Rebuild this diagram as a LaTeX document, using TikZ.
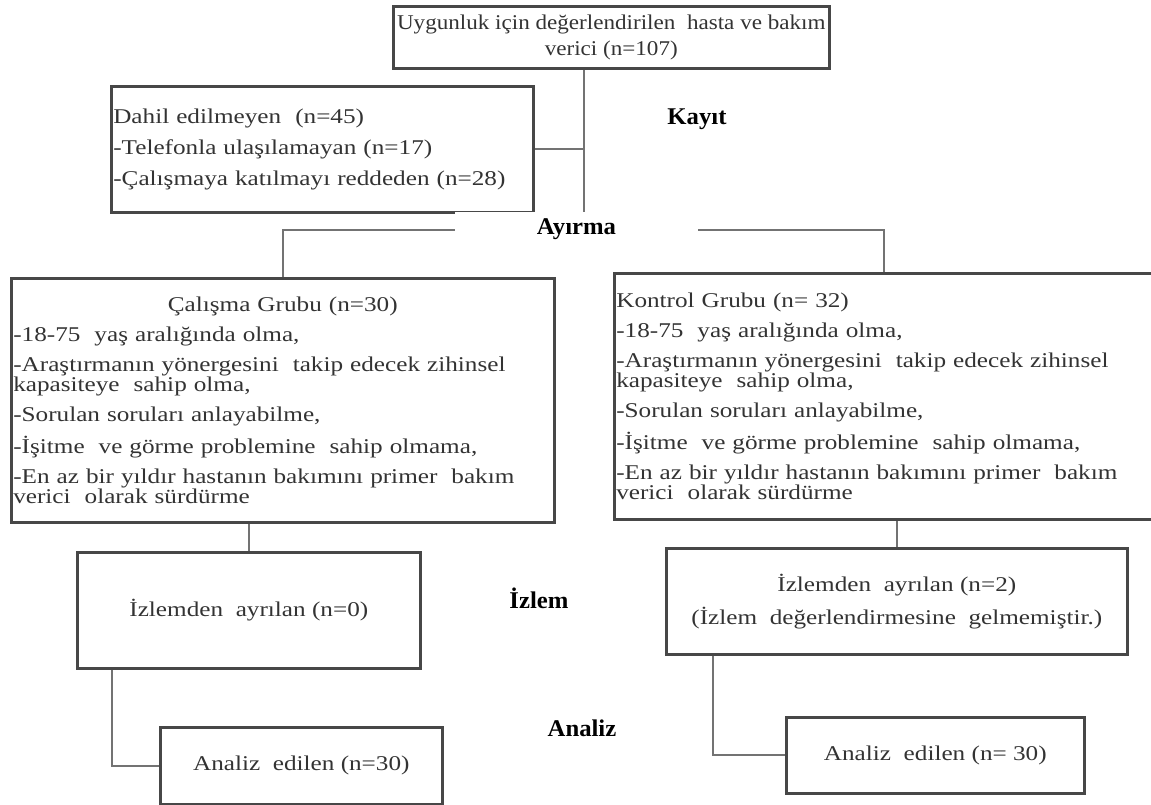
\documentclass[tikz,border=0pt]{standalone}
\usepackage{fontspec}
\usetikzlibrary{backgrounds}
\newfontfamily\bodyfont{Liberation Serif}[FakeStretch=1.2]
\newfontfamily\topfont{Liberation Serif}[FakeStretch=1.1]
\newfontfamily\labfont{Liberation Serif}[FakeStretch=1.03]
\begin{document}
\begin{tikzpicture}[x=1pt,y=-1pt,
  box/.style={draw=black!72, line width=2.6pt, fill=white, inner xsep=2pt, inner ysep=0pt,
              anchor=north west, font=\bodyfont\fontsize{21}{20}\selectfont, text=black!80},
  conn/.style={draw=black!55, line width=1.8pt},
  lab/.style={font=\labfont\bfseries\fontsize{24}{26}\selectfont, text=black, inner sep=0pt}]
\useasboundingbox (0,0) rectangle (1151,805);

% boxes
\node[box, minimum width=436, minimum height=62, align=center, font=\topfont\fontsize{21}{20}\selectfont] (top) at (392,5)
  {Uygunluk için değerlendirilen\ \ hasta ve bakım\\[6pt] verici (n=107)};
\node[box, minimum width=422, minimum height=126, text width=418, align=left] (excl) at (110,85)
  {Dahil edilmeyen\ \ (n=45)\\[11pt] -Telefonla ulaşılamayan (n=17)\\[11pt] -Çalışmaya katılmayı reddeden (n=28)};
\node[box, minimum width=543, minimum height=244, text width=539, align=left] (study) at (10,277)
  {\makebox[539pt]{Çalışma Grubu (n=30)}\\[10pt]
   -18-75\ \ yaş aralığında olma,\\[10pt]
   -Araştırmanın yönergesini\ \ takip edecek zihinsel\\ kapasiteye\ \ sahip olma,\\[10pt]
   -Sorulan soruları anlayabilme,\\[10pt]
   -İşitme\ \ ve görme problemine\ \ sahip olmama,\\[10pt]
   -En az bir yıldır hastanın bakımını primer\ \ bakım\\ verici\ \ olarak sürdürme};
\node[box, minimum width=547, minimum height=246, text width=543, align=left] (control) at (613,272)
  {Kontrol Grubu (n= 32)\\[10pt]
   -18-75\ \ yaş aralığında olma,\\[10pt]
   -Araştırmanın yönergesini\ \ takip edecek zihinsel\\ kapasiteye\ \ sahip olma,\\[10pt]
   -Sorulan soruları anlayabilme,\\[10pt]
   -İşitme\ \ ve görme problemine\ \ sahip olmama,\\[10pt]
   -En az bir yıldır hastanın bakımını primer\ \ bakım\\ verici\ \ olarak sürdürme};
\node[box, minimum width=343, minimum height=116, align=center] (izL) at (76,551)
  {İzlemden\ \ ayrılan (n=0)};
\node[box, minimum width=461, minimum height=106, align=center] (izR) at (665,547)
  {İzlemden\ \ ayrılan (n=2)\\[10pt] (İzlem\ \ değerlendirmesine\ \ gelmemiştir.)};
\node[box, minimum width=282, minimum height=77, align=center] (anL) at (159,726)
  {Analiz\ \ edilen (n=30)};
\node[box, minimum width=298, minimum height=76, align=center] (anR) at (785,716)
  {Analiz\ \ edilen (n= 30)};

% stage labels
\node[lab] (kayit) at (697,119) {Kayıt};
\node[lab, fill=white, minimum width=243, minimum height=33] (ayirma) at (576.5,229) {Ayırma};
\node[lab] (izlem) at (539,598) {İzlem};
\node[lab] (analiz) at (582,728) {Analiz};

% connector helper coordinates
\coordinate (tx) at (584,0);
\coordinate (sx) at (283,230);
\coordinate (cx) at (884,230);
\coordinate (lx) at (112,0);
\coordinate (rx) at (713,0);

\begin{pgfonlayer}{background}
\fill[white] (0,0) rectangle (1151,805);
\draw[conn] (top.south -| tx) -- (ayirma.north -| tx);
\draw[conn] (excl.east) -- (excl.east -| tx);
\draw[conn] (study.north -| sx) -- (sx) -- (cx) -- (control.north -| cx);
\draw[conn] (study.south -| izL.north) -- (izL.north);
\draw[conn] (control.south -| izR.north) -- (izR.north);
\draw[conn] (izL.south -| lx) |- (anL.west);
\draw[conn] (izR.south -| rx) |- (anR.west);
\end{pgfonlayer}
\end{tikzpicture}
\end{document}
